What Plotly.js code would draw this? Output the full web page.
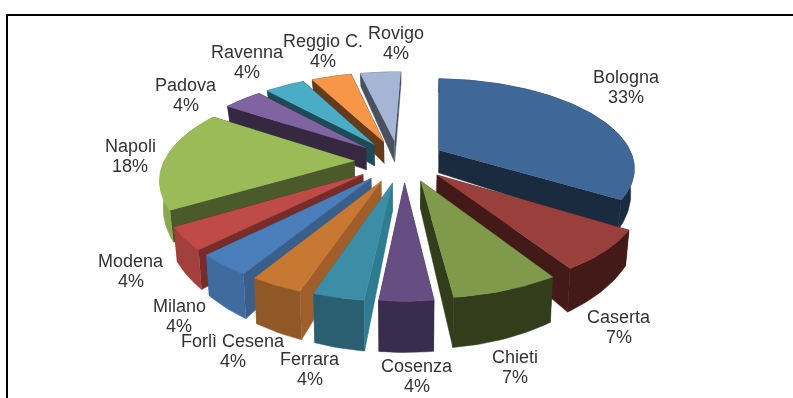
<!DOCTYPE html>
<html><head><meta charset="utf-8">
<script src="https://cdn.plot.ly/plotly-3.0.1.min.js"></script>
<style>html,body{margin:0;padding:0;background:#fff;overflow:hidden}#chart{filter:blur(0.35px)}</style>
</head><body><div id="chart" style="width:793px;height:398px"></div>
<script>
const categories = ["Bologna","Caserta","Chieti","Cosenza","Ferrara","Forlì Cesena","Milano","Modena","Napoli","Padova","Ravenna","Reggio C.","Rovigo"];
const values = [33,7,7,4,4,4,4,4,18,4,4,4,4];
const topColors = ["#3F6899","#9A403C","#7F9A4A","#674E82","#3B8EA5","#C77934","#4A7EBB","#BE4B48","#9BBB59","#8064A2","#4BACC6","#F79646","#A5B5D5"];
const sideColors = ["#1A2B40","#431A17","#333D1C","#3A2C4C","#2F7C90","#A05F2A","#3A5F8A","#772C2A","#4B5A2A","#352840","#1F4A57","#653C1B","#48515F"];
const arcColors = ["#1A2B40","#431A17","#333D1C","#3A2C4C","#2A5F72","#8F5826","#3F6B9E","#A33F3C","#8BA850","#352840","#1F4A57","#653C1B","#48515F"];
const labelX = [626,619,515,417,310,233,179,131,130,186,247,323,396];
const labelY = [77,317,357,366,359,341,306,261,146,85,52,41,33];

// view parameters of the tilted, exploded pie
const cx=400, cy=161, A=195, B=88, P=0.18, D=24, E=0.24, TAPER=0.985, LINE=20, LEFT=0.975;
const warpAt=[0,90,170,182,205,225,300,320,340,360];
const warpBy=[2,4,6,4.5,1.5,0.5,0,0.3,1,2];
const total = values.reduce((a,b)=>a+b,0);
const rad = d=>d*Math.PI/180;
function warp(d){
  for(let k=1;k<warpAt.length;k++){
    if(d<=warpAt[k]){const t=(d-warpAt[k-1])/(warpAt[k]-warpAt[k-1]);return warpBy[k-1]+t*(warpBy[k]-warpBy[k-1]);}
  }
  return warpBy[warpBy.length-1];
}
function proj(deg0,r,mid,h){
  const deg=deg0+warp(deg0);
  const X=E*Math.sin(rad(mid))+r*Math.sin(rad(deg));
  const Y=-E*Math.cos(rad(mid))-r*Math.cos(rad(deg));
  const s=1/(1-P*Y);
  const t=(h?TAPER:1)*(X<0?LEFT:1);
  return [cx+A*X*s*t, cy+B*Y*s+h*D*s*s*s];
}
function poly(pts,color){
  return {type:"scatter",mode:"lines",x:pts.map(p=>p[0]),y:pts.map(p=>p[1]),fill:"toself",
    fillcolor:color,line:{width:0.5,color:color},hoverinfo:"skip",showlegend:false};
}
let cum=0;
const slices=values.map((v,i)=>{const a0=cum/total*360;cum+=v;const a1=cum/total*360;return {i,a0,a1,mid:(a0+a1)/2};});
const order=slices.slice().sort((p,q)=>{
  const f=m=>{const Y=-E*Math.cos(rad(m));return Y-Math.cos(rad(m));};
  return f(p.mid)-f(q.mid);
});
const traces=[];
order.forEach(sl=>{
  const {i,a0,a1,mid}=sl;
  const arc=[];for(let d=a0;d<a1;d+=1.5)arc.push(d);arc.push(a1);
  const radial=a=>[proj(a,0,mid,0),proj(a,1,mid,0),proj(a,1,mid,1),proj(a,0,mid,1)];
  traces.push(poly(radial(a0),sideColors[i]));
  traces.push(poly(radial(a1),sideColors[i]));
  traces.push(poly(arc.map(d=>proj(d,1,mid,0)).concat(arc.slice().reverse().map(d=>proj(d,1,mid,1))),arcColors[i]));
  traces.push(poly([proj(a0,0,mid,0)].concat(arc.map(d=>proj(d,1,mid,0))),topColors[i]));
});
const annotations=[];
categories.forEach((c,i)=>{
  const pct=Math.round(values[i]/total*100)+"%";
  [c,pct].forEach((t,k)=>annotations.push({x:labelX[i],y:labelY[i]+k*LINE,xref:"x",yref:"y",text:t,showarrow:false,
    xanchor:"center",yanchor:"middle",font:{family:"Liberation Sans, Arial, sans-serif",size:18,color:"#333333"}}));
});
const layout={width:793,height:398,margin:{l:0,r:0,t:0,b:0},paper_bgcolor:"#fff",plot_bgcolor:"#fff",showlegend:false,
  xaxis:{range:[0,793],visible:false,fixedrange:true},yaxis:{range:[398,0],visible:false,fixedrange:true},
  annotations,
  shapes:[
    {type:"line",xref:"x",yref:"y",x0:6,x1:793,y0:15,y1:15,line:{color:"#000",width:2}},
    {type:"line",xref:"x",yref:"y",x0:7,x1:7,y0:14,y1:398,line:{color:"#000",width:2}}
  ]};
Plotly.newPlot("chart",traces,layout,{displayModeBar:false,staticPlot:true});
</script></body></html>
